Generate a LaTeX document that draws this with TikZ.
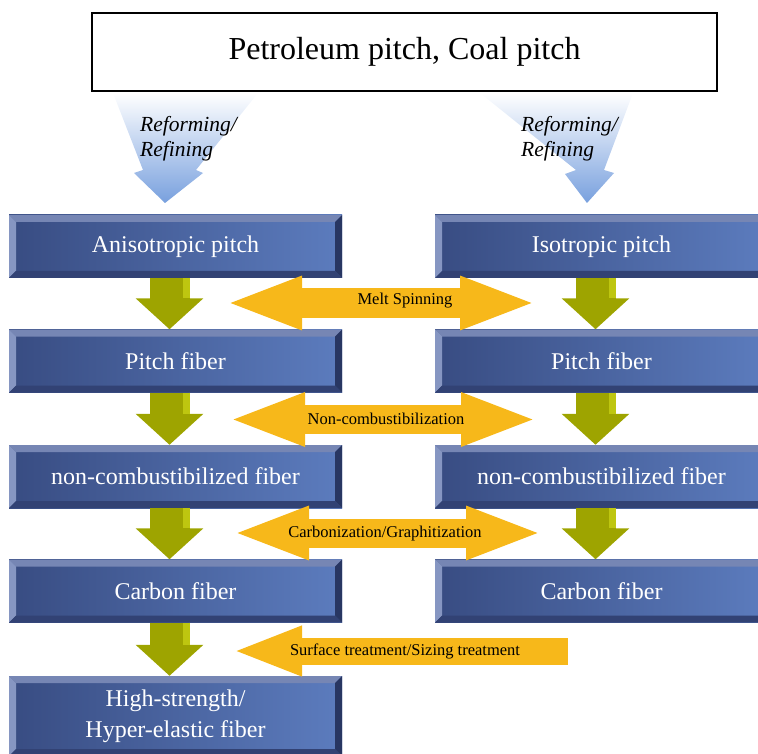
\documentclass[tikz,border=0pt]{standalone}
\usepackage{fontspec}
\setmainfont{Liberation Serif}
\usepackage{tikz}
\usetikzlibrary{arrows.meta,calc}
\definecolor{pfnavy}{RGB}{56,76,130}
\definecolor{pfblue}{RGB}{92,124,190}
\definecolor{pfbevtop}{RGB}{118,134,180}
\definecolor{pfbevleft}{RGB}{134,150,194}
\definecolor{pfbevbot}{RGB}{50,66,116}
\definecolor{pfbevright}{RGB}{40,54,98}
\definecolor{pfolive}{RGB}{158,164,0}
\definecolor{pfolivelt}{RGB}{190,198,16}
\definecolor{pforange}{RGB}{247,184,26}
\definecolor{pfsky}{RGB}{120,160,222}
\tikzset{
  feednode/.style={rectangle,draw=black,line width=1.2pt,fill=white,minimum width=625pt,minimum height=78pt,font=\fontsize{32}{35}\selectfont},
  stagenode/.style={rectangle,minimum width=333pt,minimum height=63pt,inner sep=0pt,left color=pfnavy,right color=pfblue,
    text=white,align=center,font=\fontsize{24}{31}\selectfont,
    path picture={
      \fill[pfbevtop] (path picture bounding box.north west) -- (path picture bounding box.north east)
        -- ([shift={(-7pt,-7pt)}]path picture bounding box.north east) -- ([shift={(7pt,-7pt)}]path picture bounding box.north west) -- cycle;
      \fill[pfbevleft] (path picture bounding box.north west) -- ([shift={(7pt,-7pt)}]path picture bounding box.north west)
        -- ([shift={(7pt,7pt)}]path picture bounding box.south west) -- (path picture bounding box.south west) -- cycle;
      \fill[pfbevbot] (path picture bounding box.south west) -- ([shift={(7pt,7pt)}]path picture bounding box.south west)
        -- ([shift={(-7pt,7pt)}]path picture bounding box.south east) -- (path picture bounding box.south east) -- cycle;
      \fill[pfbevright] (path picture bounding box.south east) -- ([shift={(-7pt,7pt)}]path picture bounding box.south east)
        -- ([shift={(-7pt,-7pt)}]path picture bounding box.north east) -- (path picture bounding box.north east) -- cycle;
    }},
  refinelabel/.style={anchor=west,align=left,inner sep=0pt,font=\itshape\fontsize{21.5}{25}\selectfont},
  proclabel/.style={inner sep=0pt,font=\fontsize{16.5}{19}\selectfont},
  procarrow/.style={pforange,line width=29pt,{Triangle[width=48pt,length=77pt]}-{Triangle[width=48pt,length=77pt]}},
  sizearrow/.style={pforange,line width=27pt,{Triangle[width=45pt,length=70pt]}-},
  stagearrow/.style={pfolive,line width=40pt,-{Triangle[width=66pt,length=31pt]}}
}
% olive block arrow from one stage to the next
\newcommand{\stageflow}[2]{%
  \draw[stagearrow] ([xshift=-6pt]#1.south) -- ([xshift=-6pt]#2.north);
  \draw[pfolivelt,line width=7pt] ([xshift=10.5pt]#1.south) -- ([xshift=10.5pt,yshift=31pt]#2.north);
}

\begin{document}
\begin{tikzpicture}[x=1pt,y=-1pt]
  \useasboundingbox (0,0) rectangle (758,754);
  \clip (0,0) rectangle (758,754);
  \node[feednode] (pitchsrc) at (404.5,52) {Petroleum pitch, Coal pitch};
  % reforming arrows
  \shade[top color=white,bottom color=pfsky] (113,93) -- (258,93) -- (196,170) -- (203,173)
    -- (165,203) -- (134,173) -- (143,170) -- cycle;
  \shade[top color=white,bottom color=pfsky] (480,93) -- (633,93) -- (604,170) -- (614,173)
    -- (587,203) -- (565,174) -- (576,170) -- cycle;
  \node[refinelabel] (refL) at (140,139) {Reforming/\\Refining};
  \node[refinelabel] (refR) at (521,139) {Reforming/\\Refining};
  % stages
  \node[stagenode] (ani) at (175.5,246.5) {Anisotropic pitch};
  \node[stagenode] (iso) at (601.5,246.5) {Isotropic pitch};
  \node[stagenode] (pfibL) at (175.5,361) {Pitch fiber};
  \node[stagenode] (pfibR) at (601.5,361) {Pitch fiber};
  \node[stagenode] (ncfibL) at (175.5,476.5) {non-combustibilized fiber};
  \node[stagenode] (ncfibR) at (601.5,476.5) {non-combustibilized fiber};
  \node[stagenode] (cfibL) at (175.5,591) {Carbon fiber};
  \node[stagenode] (cfibR) at (601.5,591) {Carbon fiber};
  \node[stagenode,minimum height=80pt] (hsfib) at (175.5,716) {High-strength/\\Hyper-elastic fiber};
  \stageflow{ani}{pfibL}
  \stageflow{pfibL}{ncfibL}
  \stageflow{ncfibL}{cfibL}
  \stageflow{cfibL}{hsfib}
  \stageflow{iso}{pfibR}
  \stageflow{pfibR}{ncfibR}
  \stageflow{ncfibR}{cfibR}
  % process arrows
  \coordinate (meltL) at (225,303);
  \coordinate (meltR) at (537,303);
  \coordinate (nonL) at (228,419.5);
  \coordinate (nonR) at (538,419.5);
  \coordinate (carbL) at (232,533);
  \coordinate (carbR) at (543,533);
  \coordinate (surfL) at (232,651);
  \coordinate (surfR) at (568,651);
  \draw[procarrow] (meltL) -- (meltR);
  \draw[procarrow] (nonL) -- (nonR);
  \draw[procarrow] (carbL) -- (carbR);
  \draw[sizearrow] (surfL) -- (surfR);
  \node[proclabel] (melt) at (405,301) {Melt Spinning};
  \node[proclabel] (noncomb) at (386,419) {Non-combustibilization};
  \node[proclabel] (carbon) at (385,534) {Carbonization/Graphitization};
  \node[proclabel] (surface) at (405,651) {Surface treatment/Sizing treatment};
\end{tikzpicture}
\end{document}
